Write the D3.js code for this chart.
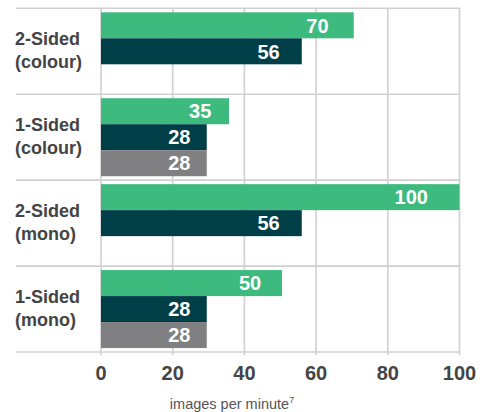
<!DOCTYPE html>
<html><head><meta charset="utf-8">
<script src="https://cdn.jsdelivr.net/npm/d3@7"></script>
<style>
html,body{margin:0;padding:0;background:#fff;}
svg{display:block;font-family:"Liberation Sans",Arial,Helvetica,sans-serif;}
</style></head>
<body>
<svg id="c" width="497" height="412"></svg>
<script>
const categories = ["2-Sided (colour)", "1-Sided (colour)", "2-Sided (mono)", "1-Sided (mono)"];
const catLine1 = ["2-Sided", "1-Sided", "2-Sided", "1-Sided"];
const catLine2 = ["(colour)", "(colour)", "(mono)", "(mono)"];
const seriesNames = ["green", "dark", "grey"];
const seriesColors = ["#3dba7e", "#003f48", "#808082"];
// bar lengths as drawn
const greenValues = [70.5, 35.7, 100, 50.5];
const darkValues = [56, 29.5, 56, 29.5];
const greyValues = [null, 29.5, null, 29.5];
// printed labels
const greenLabels = ["70", "35", "100", "50"];
const darkLabels = ["56", "28", "56", "28"];
const greyLabels = [null, "28", null, "28"];
const xTicks = [0, 20, 40, 60, 80, 100];
const axisTitle = "images per minute";
const axisTitleSup = "7";

const svg = d3.select("#c");
const x = d3.scaleLinear().domain([0, 100]).range([101, 459.5]);
const y = d3.scaleBand().domain(categories).range([8.3, 352]).padding(0);
const ys = d3.scaleBand().domain(seriesNames).range([4, 82]).padding(0);
const gridColor = "#d0d0d0";
const left = 16;

// vertical gridlines
svg.append("g").selectAll("line").data(xTicks).join("line")
  .attr("x1", d => x(d)).attr("x2", d => x(d))
  .attr("y1", y.range()[0]).attr("y2", y.range()[1] + 3)
  .attr("stroke", gridColor).attr("stroke-width", 1.6);
// horizontal gridlines
const hLines = categories.map(c => y(c)).concat([y.range()[1]]);
svg.append("g").selectAll("line").data(hLines).join("line")
  .attr("x1", left).attr("x2", x(100) + 0.8)
  .attr("y1", d => d).attr("y2", d => d)
  .attr("stroke", gridColor).attr("stroke-width", 1.6);

const allVals = [greenValues, darkValues, greyValues];
const allLabels = [greenLabels, darkLabels, greyLabels];
const bars = [];
seriesNames.forEach((s, si) => {
  categories.forEach((c, ci) => {
    const v = allVals[si][ci];
    if (v == null) return;
    bars.push({s, si, c, v, label: allLabels[si][ci]});
  });
});

const bg = svg.append("g");
bg.selectAll("rect").data(bars).join("rect")
  .attr("x", x(0))
  .attr("y", d => y(d.c) + ys(d.s))
  .attr("width", d => x(d.v) - x(0))
  .attr("height", ys.bandwidth())
  .attr("fill", d => seriesColors[d.si]);

bg.selectAll("text").data(bars).join("text")
  .attr("x", d => x(0) + 0.94 * (x(d.v) - x(0)) - 10)
  .attr("y", d => y(d.c) + ys(d.s) + ys.bandwidth() / 2)
  .attr("dy", "0.36em")
  .attr("text-anchor", "end")
  .attr("fill", "#fff")
  .attr("font-weight", "bold")
  .attr("font-size", 20)
  .text(d => d.label);

// category labels
const cg = svg.append("g");
categories.forEach((c, i) => {
  const cy = y(c) + y.bandwidth() / 2;
  const t = cg.append("text").attr("x", 15).attr("fill", "#444")
    .attr("font-weight", "bold").attr("font-size", 18);
  t.append("tspan").attr("x", 15).attr("y", cy - 6.5).text(catLine1[i]);
  t.append("tspan").attr("x", 15).attr("y", cy + 16.5).text(catLine2[i]);
});

// x axis tick labels
svg.append("g").selectAll("text").data(xTicks).join("text")
  .attr("x", d => x(d)).attr("y", 380)
  .attr("text-anchor", "middle").attr("fill", "#444")
  .attr("font-weight", "bold").attr("font-size", 20)
  .text(d => d);

// axis title
const at = svg.append("text").attr("x", 232).attr("y", 409)
  .attr("text-anchor", "middle").attr("fill", "#555").attr("font-size", 14.5);
at.append("tspan").text(axisTitle);
at.append("tspan").attr("font-size", 9).attr("dy", -6).text(axisTitleSup);
</script>
</body></html>
